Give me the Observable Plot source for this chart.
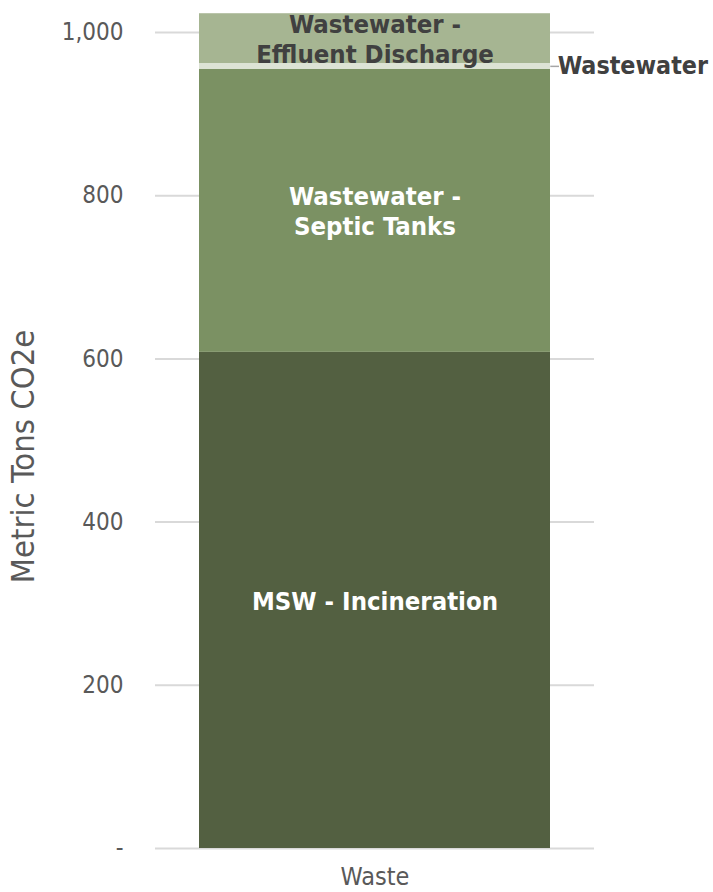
<!DOCTYPE html>
<html>
<head>
<meta charset="utf-8">
<script src="https://cdn.jsdelivr.net/npm/d3@7"></script>
<script src="https://cdn.jsdelivr.net/npm/@observablehq/plot@0.6"></script>
<style>
  html, body { margin: 0; padding: 0; background: #ffffff; }
  #chart svg { display: block; }
</style>
</head>
<body>
<div id="chart"></div>
<script>
// Waste-sector emissions, stacked bottom-up
const categories = ["Waste"];
const segments = [
  "MSW - Incineration",
  "Wastewater - Septic Tanks",
  "Wastewater",
  "Wastewater - Effluent Discharge"
];
const values = [608, 347, 7, 61];
const segmentColors = ["#536041", "#7b9163", "#dde3d5", "#a6b592"];
const labelLines = [
  "MSW - Incineration",
  "Wastewater -\nSeptic Tanks",
  "Wastewater",
  "Wastewater -\nEffluent Discharge"
];
const labelColors = ["#ffffff", "#ffffff", "#404040", "#404040"];
const labelInside = [true, true, false, true];
const yTicks = [0, 200, 400, 600, 800, 1000];
const yTitle = "Metric Tons CO2e";

const rows = segments.map((s, i) => ({
  category: categories[0],
  segment: s,
  value: values[i],
  color: segmentColors[i],
  label: labelLines[i],
  labelColor: labelColors[i],
  inside: labelInside[i]
}));

const W = 713, H = 892;
const marginLeft = 155, marginRight = 119, marginTop = 32, marginBottom = 44;
const xPadding = 0.111;
const bandwidth = (W - marginLeft - marginRight) * (1 - xPadding) / (1 + xPadding);
const font = "'DejaVu Sans Condensed', 'DejaVu Sans', sans-serif";
const labelSize = 25.5;

const inner = (pick) => Plot.stackY({
  x: "category",
  y: "value",
  order: null,
  text: d => (d.inside && pick(d)) ? d.label : null
});

const chart = Plot.plot({
  width: W,
  height: H,
  marginLeft, marginRight, marginTop, marginBottom,
  style: { fontFamily: font, background: "#ffffff" },
  x: { type: "band", domain: categories, padding: xPadding, label: null },
  y: { domain: [0, 1000], label: null },
  color: { type: "identity" },
  marks: [
    Plot.gridY(yTicks, { stroke: "#d9d9d9", strokeOpacity: 1, strokeWidth: 2 }),
    Plot.axisY(yTicks, {
      tickSize: 0,
      tickPadding: 32,
      fontSize: 24,
      fill: "#595959",
      label: null,
      tickFormat: d => d === 0 ? "-" : d3.format(",")(d)
    }),
    Plot.axisX({
      tickSize: 0,
      tickPadding: 19,
      fontSize: 25,
      fill: "#595959",
      label: null
    }),
    Plot.barY(rows, Plot.stackY({
      x: "category",
      y: "value",
      order: null,
      fill: "color"
    })),
    // labels drawn inside their segments
    Plot.text(rows, {
      ...inner(d => d.labelColor === "#ffffff"),
      fill: "#ffffff",
      fontSize: labelSize,
      fontWeight: "bold",
      lineHeight: 1.18
    }),
    Plot.text(rows, {
      ...inner(d => d.labelColor !== "#ffffff"),
      fill: "#404040",
      fontSize: labelSize,
      fontWeight: "bold",
      lineHeight: 1.18
    }),
    // thin segment: leader line and label beside the bar
    Plot.tickY(rows, Plot.stackY({
      x: "category",
      y: "value",
      order: null,
      stroke: d => d.inside ? null : "#a6a6a6",
      strokeWidth: 1.5,
      insetLeft: bandwidth,
      insetRight: -9
    })),
    Plot.text(rows, Plot.stackY({
      x: "category",
      y: "value",
      order: null,
      text: d => d.inside ? null : d.label,
      fill: "#404040",
      fontSize: 24.8,
      fontWeight: "bold",
      textAnchor: "start",
      dx: bandwidth / 2 + 7
    })),
    // vertical axis title
    Plot.text([yTitle], {
      frameAnchor: "left",
      text: d => d,
      textAnchor: "middle",
      rotate: -90,
      dx: -132,
      dy: 16,
      fontSize: 32.5,
      fill: "#595959"
    })
  ]
});

document.getElementById("chart").appendChild(chart);
</script>
</body>
</html>
